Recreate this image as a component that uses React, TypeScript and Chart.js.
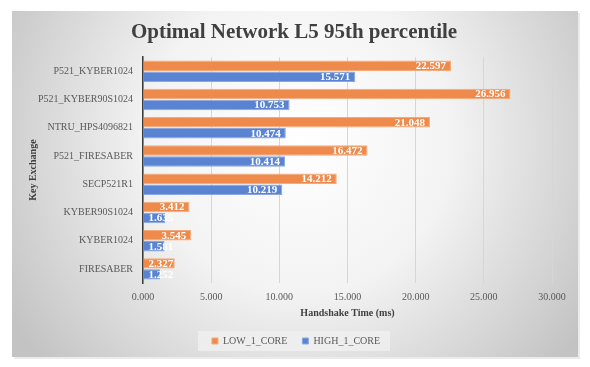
import React, { useEffect, useRef } from "react";
import { Chart, registerables } from "chart.js";

Chart.register(...registerables);

const categories = [
  "P521_KYBER1024",
  "P521_KYBER90S1024",
  "NTRU_HPS4096821",
  "P521_FIRESABER",
  "SECP521R1",
  "KYBER90S1024",
  "KYBER1024",
  "FIRESABER",
];
const lowValues = [22.597, 26.956, 21.048, 16.472, 14.212, 3.412, 3.545, 2.327];
const highValues = [15.571, 10.753, 10.474, 10.414, 10.219, 1.635, 1.581, 1.252];
const seriesNames = ["LOW_1_CORE", "HIGH_1_CORE"];
const chartTitle = "Optimal Network L5 95th percentile";
const xTitle = "Handshake Time (ms)";
const yTitle = "Key Exchange";

const SERIF = "'Liberation Serif', 'Times New Roman', serif";

const backgroundPlugin = {
  id: "bgBox",
  beforeDraw(chart: any) {
    const ctx = chart.ctx;
    const x0 = 12, y0 = 11, x1 = 578, y1 = 357;
    ctx.save();
    ctx.fillStyle = "#ffffff";
    ctx.fillRect(0, 0, chart.width, chart.height);
    ctx.fillStyle = "rgba(0,0,0,0.08)";
    ctx.fillRect(x0 + 2, y0 + 2, x1 - x0, y1 - y0);
    const g = ctx.createRadialGradient(300, 140, 0, 300, 140, 340);
    g.addColorStop(0, "#ffffff");
    g.addColorStop(0.45, "#f3f3f3");
    g.addColorStop(1, "#c3c3c3");
    ctx.fillStyle = g;
    ctx.fillRect(x0, y0, x1 - x0, y1 - y0);
    const lg = chart.legend;
    if (lg && lg.legendHitBoxes && lg.legendHitBoxes.length) {
      const hb = lg.legendHitBoxes;
      const left = Math.min(...hb.map((h: any) => h.left)) - 14;
      const right = Math.max(...hb.map((h: any) => h.left + h.width)) + 10;
      const top = hb[0].top - 5;
      ctx.fillStyle = "rgba(238,238,238,0.9)";
      ctx.fillRect(left, top, right - left, hb[0].height + 10);
    }
    ctx.restore();
  },
};

const boxShiftPlugin = {
  id: "boxShift",
  afterLayout(chart: any) {
    const lg = chart.legend;
    if (lg) {
      lg.left += 10;
      lg.right += 10;
    }
    const tb = chart.titleBlock;
    if (tb) {
      tb.left += 8;
      tb.right += 8;
    }
  },
};

const dataLabelPlugin = {
  id: "barLabels",
  afterDatasetsDraw(chart: any) {
    const ctx = chart.ctx;
    ctx.save();
    ctx.font = `bold 11px ${SERIF}`;
    ctx.fillStyle = "#ffffff";
    ctx.textBaseline = "middle";
    chart.data.datasets.forEach((ds: any, di: number) => {
      const meta = chart.getDatasetMeta(di);
      meta.data.forEach((bar: any, i: number) => {
        const v = ds.data[i];
        const text = v.toFixed(3);
        const w = ctx.measureText(text).width;
        const len = bar.x - bar.base;
        if (w + 8 <= len) {
          ctx.textAlign = "right";
          ctx.fillText(text, bar.x - 5, bar.y + 0.5);
        } else {
          ctx.textAlign = "left";
          ctx.fillText(text, bar.base + 5, bar.y + 0.5);
        }
      });
    });
    ctx.restore();
  },
};

export default function App() {
  const ref = useRef<HTMLCanvasElement | null>(null);
  useEffect(() => {
    if (!ref.current) return;
    const chart = new Chart(ref.current, {
      type: "bar",
      data: {
        labels: categories,
        datasets: [
          {
            label: seriesNames[0],
            data: lowValues,
            backgroundColor: "#EE8A4B",
            borderColor: "#F5AA7A",
            borderWidth: 1,
          },
          {
            label: seriesNames[1],
            data: highValues,
            backgroundColor: "#5A84D1",
            borderColor: "#8AA8DE",
            borderWidth: 1,
          },
        ],
      },
      options: {
        indexAxis: "y",
        responsive: false,
        animation: false,
        events: [],
        datasets: {
          bar: { categoryPercentage: 0.78, barPercentage: 0.95 },
        },
        layout: { padding: { left: 20, right: 38, top: 0, bottom: 11 } },
        scales: {
          x: {
            min: 0,
            max: 30,
            ticks: {
              stepSize: 5,
              padding: 8,
              color: "#595959",
              font: { family: SERIF, size: 10 },
              callback: (v: any) => Number(v).toFixed(3),
              maxRotation: 0,
            },
            grid: { color: "#d6d6d6", drawTicks: false },
            border: { display: false },
            title: {
              display: true,
              text: xTitle,
              color: "#404040",
              font: { family: SERIF, size: 10, weight: "bold" },
              padding: { top: 0, bottom: 2 },
            },
            afterFit: (s: any) => {
              s.height = 38;
            },
          },
          y: {
            ticks: {
              padding: 10,
              color: "#595959",
              font: { family: SERIF, size: 10 },
            },
            grid: { display: false, drawTicks: false },
            border: { display: true, color: "#3a3a3a", width: 1.5 },
            title: {
              display: true,
              text: yTitle,
              color: "#404040",
              font: { family: SERIF, size: 10, weight: "bold" },
              padding: { top: 7, bottom: 0 },
            },
            afterFit: (s: any) => {
              s.width = 123;
            },
          },
        },
        plugins: {
          title: {
            display: true,
            text: chartTitle,
            color: "#404040",
            font: { family: SERIF, size: 21, weight: "bold" },
            padding: { top: 20, bottom: 12 },
          },
          legend: {
            position: "bottom",
            labels: {
              boxWidth: 6,
              boxHeight: 6,
              padding: 15,
              color: "#595959",
              font: { family: SERIF, size: 10 },
            },
          },
          tooltip: { enabled: false },
        },
      },
      plugins: [backgroundPlugin, boxShiftPlugin, dataLabelPlugin],
    } as any);
    return () => chart.destroy();
  }, []);
  return (
    <div style={{ position: "absolute", left: 0, top: 0, width: 590, height: 367 }}>
      <canvas ref={ref} width={590} height={367} />
    </div>
  );
}
